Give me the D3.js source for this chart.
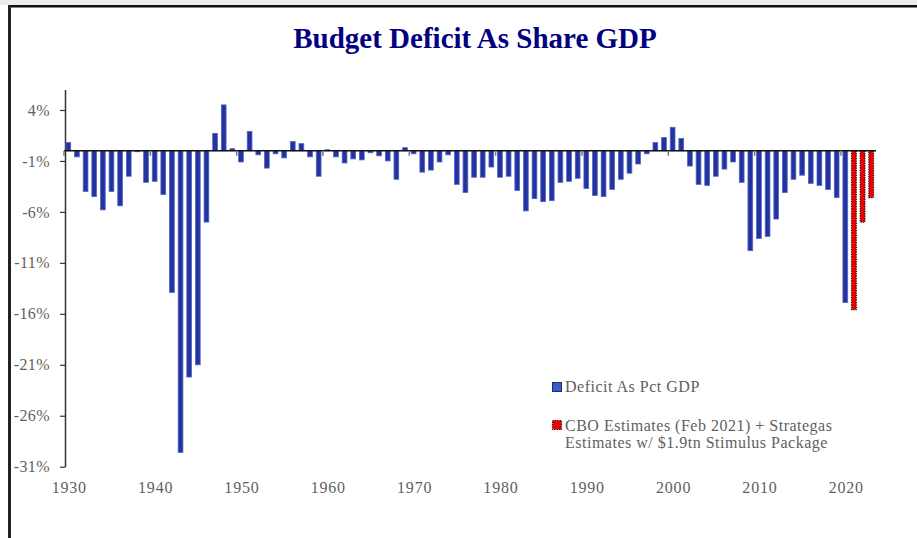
<!DOCTYPE html>
<html>
<head>
<meta charset="utf-8">
<script src="https://cdn.jsdelivr.net/npm/d3@7"></script>
<style>
  body { margin: 0; background: #fff; }
  svg { display: block; }
</style>
</head>
<body>
<svg id="chart" width="917" height="538"></svg>
<script>
// actual deficit (+surplus) as % of GDP, 1930-2020
const actualYears = d3.range(1930, 2021);
const actualValues = [
  0.8, -0.6, -4.0, -4.5, -5.8, -4.0, -5.4, -2.5, -0.1, -3.1,
  -3.0, -4.3, -13.9, -29.6, -22.2, -21.0, -7.0, 1.7, 4.5, 0.2,
  -1.1, 1.9, -0.4, -1.7, -0.3, -0.7, 0.9, 0.7, -0.6, -2.5,
  0.1, -0.6, -1.2, -0.8, -0.9, -0.2, -0.5, -1.0, -2.8, 0.3,
  -0.3, -2.1, -1.9, -1.1, -0.4, -3.3, -4.1, -2.6, -2.6, -1.6,
  -2.6, -2.5, -3.9, -5.9, -4.7, -5.0, -4.9, -3.1, -3.0, -2.7,
  -3.7, -4.4, -4.5, -3.8, -2.8, -2.2, -1.3, -0.3, 0.8, 1.3,
  2.3, 1.2, -1.5, -3.3, -3.4, -2.5, -1.8, -1.1, -3.1, -9.8,
  -8.6, -8.4, -6.7, -4.1, -2.8, -2.4, -3.2, -3.4, -3.8, -4.6,
  -14.9
];
// CBO + Strategas estimates
const estimateYears = [2021, 2022, 2023];
const estimateValues = [-15.6, -7.0, -4.6];

const yTicks = [4, -1, -6, -11, -16, -21, -26, -31];
const xLabelYears = [1930, 1940, 1950, 1960, 1970, 1980, 1990, 2000, 2010, 2020];
const legendLabels = [
  ["Deficit As Pct GDP"],
  ["CBO Estimates (Feb 2021) + Strategas", "Estimates w/ $1.9tn Stimulus Package"]
];

const svg = d3.select("#chart");
const serif = "'Liberation Serif', 'Times New Roman', serif";
const grey = "#5f5f5f";

// frame
svg.append("rect").attr("x", 0).attr("y", 0).attr("width", 917).attr("height", 5).attr("fill", "#ececec");
svg.append("rect").attr("x", 8).attr("y", 5).attr("width", 909).attr("height", 2.5).attr("fill", "#111");
svg.append("rect").attr("x", 8).attr("y", 5).attr("width", 3).attr("height", 533).attr("fill", "#222");

svg.append("text")
  .attr("x", 475)
  .attr("y", 48)
  .attr("text-anchor", "middle")
  .style("font-family", serif)
  .style("font-weight", "bold")
  .style("font-size", "29px")
  .style("fill", "#000080")
  .text("Budget Deficit As Share GDP");

const allYears = actualYears.concat(estimateYears);

const x = d3.scaleBand()
  .domain(allYears)
  .range([64, 875.5])
  .padding(0);

const y = d3.scaleLinear()
  .domain([-31, 6])
  .range([466.7, 89.6]);

const barW = x.step() * 0.55;
const cx = d => x(d) + x.step() / 2;

// y axis
const yAxis = svg.append("g")
  .attr("transform", "translate(65,0)")
  .call(d3.axisLeft(y).tickValues(yTicks).tickSize(5).tickSizeOuter(0).tickFormat(d => d + "%"));
yAxis.select(".domain").attr("stroke", "#333").attr("stroke-width", 1.5);
yAxis.selectAll(".tick line").attr("stroke", "#333").attr("stroke-width", 1.2);
yAxis.selectAll(".tick text")
  .attr("x", -15)
  .style("font-family", serif)
  .style("font-size", "16px")
  .style("letter-spacing", "0.4px")
  .style("fill", grey);

// actual bars
svg.append("g")
  .selectAll("rect")
  .data(actualYears.map((yr, i) => ({ yr, v: actualValues[i] })))
  .join("rect")
  .attr("x", d => cx(d.yr) - barW / 2)
  .attr("y", d => y(Math.max(0, d.v)))
  .attr("width", barW)
  .attr("height", d => Math.abs(y(d.v) - y(0)))
  .attr("fill", "#22339f")
  .attr("stroke", "#5565c6")
  .attr("stroke-width", 0.8);

// estimate bars
svg.append("g")
  .selectAll("rect")
  .data(estimateYears.map((yr, i) => ({ yr, v: estimateValues[i] })))
  .join("rect")
  .attr("x", d => cx(d.yr) - barW / 2)
  .attr("y", d => y(Math.max(0, d.v)))
  .attr("width", barW)
  .attr("height", d => Math.abs(y(d.v) - y(0)))
  .attr("fill", "#ee0000")
  .attr("stroke", "#111")
  .attr("stroke-width", 1.2)
  .attr("stroke-dasharray", "1.2,1.2");

// zero line + decade ticks
svg.append("line")
  .attr("x1", 64).attr("x2", 876)
  .attr("y1", y(0)).attr("y2", y(0))
  .attr("stroke", "#111").attr("stroke-width", 1.5);

svg.append("g")
  .selectAll("line")
  .data(xLabelYears)
  .join("line")
  .attr("x1", d => x(d)).attr("x2", d => x(d))
  .attr("y1", y(0)).attr("y2", y(0) + 5)
  .attr("stroke", "#777").attr("stroke-width", 1.5);

svg.append("g")
  .selectAll("text")
  .data(xLabelYears)
  .join("text")
  .attr("x", d => cx(d) + 1)
  .attr("y", 493)
  .attr("text-anchor", "middle")
  .style("font-family", serif)
  .style("font-size", "16px")
  .style("letter-spacing", "0.8px")
  .style("fill", grey)
  .text(d => d);

// legend
const legend = svg.append("g");
legend.append("rect")
  .attr("x", 552.5).attr("y", 382.5).attr("width", 9).attr("height", 9)
  .attr("fill", "#3b5bc8").attr("stroke", "#1c2a80").attr("stroke-width", 1);
legend.append("rect")
  .attr("x", 552.5).attr("y", 420.5).attr("width", 9).attr("height", 9)
  .attr("fill", "#ee0000").attr("stroke", "#111").attr("stroke-width", 1.2).attr("stroke-dasharray", "1.2,1.2");

legendLabels.forEach((lines, i) => {
  lines.forEach((t, j) => {
    legend.append("text")
      .attr("x", 565)
      .attr("y", (i === 0 ? 392 : 431) + j * 17)
      .style("font-family", serif)
      .style("font-size", "16px")
      .style("letter-spacing", "0.5px")
      .style("fill", grey)
      .text(t);
  });
});
</script>
</body>
</html>
